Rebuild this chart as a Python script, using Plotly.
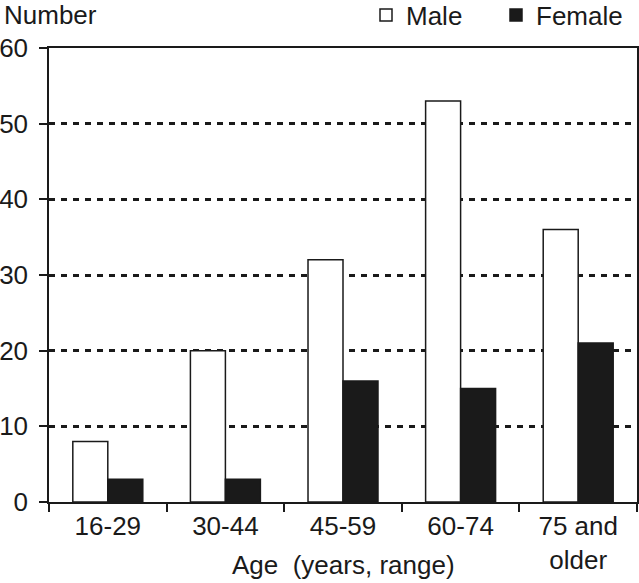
import plotly.graph_objects as go

categories = ["16-29", "30-44", "45-59", "60-74", "75 and<br>older"]
male = [8, 20, 32, 53, 36]
female = [3, 3, 16, 15, 21]
y_ticks = [0, 10, 20, 30, 40, 50, 60]

FONT = "Liberation Sans, Arial, Helvetica, sans-serif"
PLOT_W = 639 - 49 - 2
PLOT_H = 583 - 48 - 81

fig = go.Figure()
fig.add_trace(go.Bar(name="Male", x=categories, y=male,
                     marker=dict(color="white", line=dict(color="#1a1a1a", width=1.5))))
fig.add_trace(go.Bar(name="Female", x=categories, y=female,
                     marker=dict(color="#1a1a1a", line=dict(color="#1a1a1a", width=1.5))))

fig.update_layout(
    width=639, height=583,
    margin=dict(l=49, r=2, t=48, b=81, autoexpand=False),
    paper_bgcolor="white", plot_bgcolor="white",
    font=dict(family=FONT, size=26, color="#1a1a1a"),
    barmode="group", bargap=0.405, bargroupgap=0,
    showlegend=True,
    legend=dict(orientation="h", x=(626 - 49) / PLOT_W, xanchor="right",
                y=1 + (48 - 15) / PLOT_H, yanchor="middle",
                font=dict(size=26), bgcolor="rgba(0,0,0,0)", itemwidth=30,
                entrywidth=85, traceorder="normal"),
    annotations=[
        dict(text="Number", xref="paper", yref="paper", x=-47 / PLOT_W,
             y=1 + (48 - 15) / PLOT_H, xanchor="left", yanchor="middle",
             showarrow=False, font=dict(size=26)),
        dict(text="Age  (years, range)", xref="paper", yref="paper", x=0.5,
             y=-(565 - 502) / PLOT_H, xanchor="center", yanchor="middle",
             showarrow=False, font=dict(size=26)),
    ],
)
fig.update_xaxes(
    showline=True, linecolor="#1a1a1a", linewidth=1.5, mirror=True,
    ticks="outside", tickson="boundaries", ticklen=8, tickwidth=1.5, tickcolor="#1a1a1a",
    tickfont=dict(size=26), automargin=False,
)
fig.update_yaxes(
    range=[0, 60], tickvals=y_ticks, showline=True, linecolor="#1a1a1a", linewidth=1.5,
    mirror=True, ticks="outside", ticklen=8, tickwidth=1.5, tickcolor="#1a1a1a",
    showgrid=True, gridcolor="#1a1a1a", gridwidth=3, griddash="6px,6px",
    zeroline=False, tickfont=dict(size=26), ticklabelstandoff=6, automargin=False,
)

fig.write_html("out.html", config={"displayModeBar": False},
               post_script="document.body.style.margin='0';")
